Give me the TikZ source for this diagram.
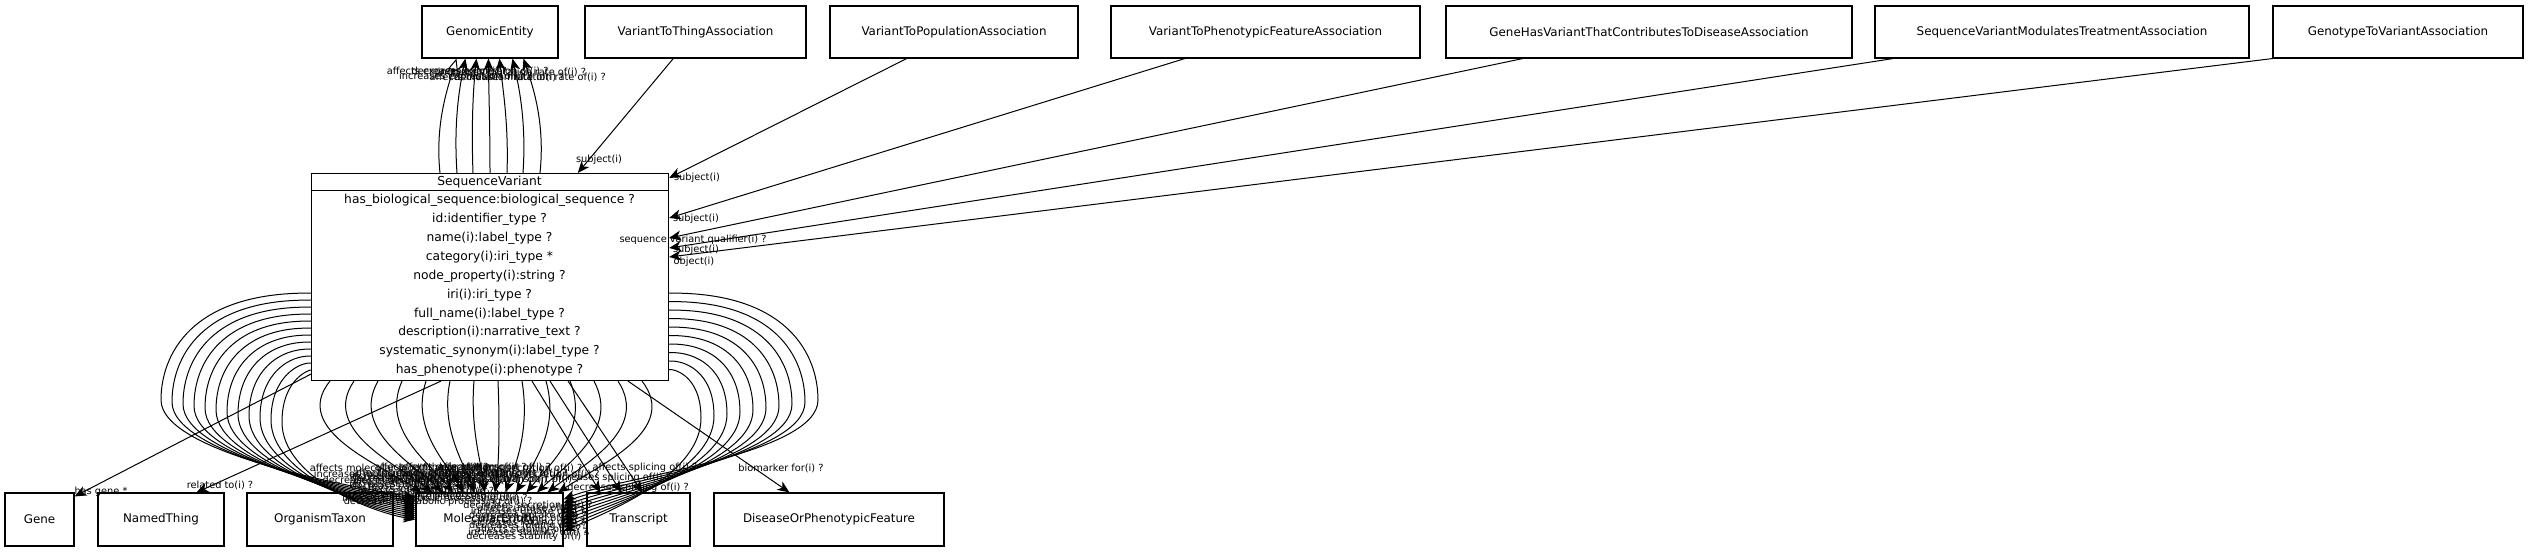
\documentclass[tikz,border=0pt]{standalone}
\usepackage{fontspec}
\setmainfont{DejaVu Sans}
\usetikzlibrary{arrows.meta,calc}
\begin{document}
\begin{tikzpicture}[x=1pt,y=-1pt,
  box/.style={draw, line width=1.1pt, inner sep=0pt, minimum height=52pt, font=\fontsize{11.9}{13}\selectfont},
  bbox/.style={box, minimum height=53pt},
  rec/.style={font=\fontsize{12.3}{13}\selectfont, inner sep=0pt},
  lbl/.style={font=\fontsize{9.8}{10}\selectfont, inner sep=0pt},
  arr/.style={-{Stealth[length=12pt,width=10pt,inset=3.5pt]}, line width=1pt},
  isa/.style={-{Triangle[open,length=12pt,width=10pt]}, line width=1pt}]
\useasboundingbox (0,0) rectangle (2528,553);
% top row
\node[box, minimum width=136pt] (ge)  at (490,32)    {GenomicEntity};
\node[box, minimum width=221pt] (v2t) at (695.5,32)  {VariantToThingAssociation};
\node[box, minimum width=248pt] (v2p) at (954,32)    {VariantToPopulationAssociation};
\node[box, minimum width=309pt] (v2f) at (1265.5,32) {VariantToPhenotypicFeatureAssociation};
\node[box, minimum width=406pt] (ghv) at (1649,32)   {GeneHasVariantThatContributesToDiseaseAssociation};
\node[box, minimum width=374pt] (svm) at (2062,32)   {SequenceVariantModulatesTreatmentAssociation};
\node[box, minimum width=250pt] (g2v) at (2398,32)   {GenotypeToVariantAssociation};
% bottom row
\node[bbox, minimum width=69pt]  (gene) at (39.5,519.5)  {Gene};
\node[bbox, minimum width=126pt] (nt)   at (161,519.5)   {NamedThing};
\node[bbox, minimum width=146pt] (ot)   at (320,519.5)   {OrganismTaxon};
\node[bbox, minimum width=147pt] (me)   at (489.5,519.5) {MolecularEntity};
\node[bbox, minimum width=103pt] (tr)   at (638.5,519.5) {Transcript};
\node[bbox, minimum width=230pt] (dis)  at (829,519.5)   {DiseaseOrPhenotypicFeature};
% record
\node[draw, line width=1.1pt, minimum width=357pt, minimum height=207pt, inner sep=0pt, anchor=north west] (sv) at (311,173) {};
\node[rec] (svt) at (489.5,182) {SequenceVariant};
\draw[line width=1pt] (sv.west |- 0,191) -- (sv.east |- 0,191);
\foreach \t [count=\i from 0] in {has\_biological\_sequence:biological\_sequence ?,
  id:identifier\_type ?, name(i):label\_type ?, category(i):iri\_type *,
  node\_property(i):string ?, iri(i):iri\_type ?, full\_name(i):label\_type ?,
  description(i):narrative\_text ?, systematic\_synonym(i):label\_type ?,
  has\_phenotype(i):phenotype ?}
  \node[rec] (svr\i) at (489.5,{200.4+18.9*\i}) {\t};
% association edges
\draw[arr] ($(v2t.south west)!0.40!(v2t.south east)$) -- ($(sv.north west)!0.745!(sv.north east)$);
\node[lbl] at (599,160) {subject(i)};
\draw[arr] ($(v2p.south west)!0.31!(v2p.south east)$) -- ($(sv.north east)+(0,5)$);
\node[lbl] at (697,178) {subject(i)};
\draw[arr] ($(v2f.south west)!0.24!(v2f.south east)$) -- ($(sv.north east)+(0,45)$);
\node[lbl] at (696,219) {subject(i)};
\draw[arr] ($(ghv.south west)!0.19!(ghv.south east)$) -- ($(sv.north east)+(0,65)$);
\node[lbl] at (693,240) {sequence variant qualifier(i) ?};
\draw[arr] ($(svm.south west)!0.05!(svm.south east)$) -- ($(sv.north east)+(0,75)$);
\node[lbl] at (696,250) {subject(i)};
\draw[arr] (g2v.south west) -- ($(sv.north east)+(0,84)$);
\node[lbl] at (694,262) {object(i)};
% edges to GenomicEntity
\draw[isa] ($(sv.north west)+(129,0)$) .. controls (435,125) and (447,90) .. ($(ge.south west)+(35,0)$);
\foreach \s/\e/\lx/\ly/\t in {146/44/447/72/affects expression of(i) ?,
  162/55/466/77/increases expression of(i) ?, 179/67/480/72/decreases expression of(i) ?,
  196/78/497/77/affects mutation rate of(i) ?, 212/91/512/72/increases mutation rate of(i) ?,
  229/102/530/77/decreases mutation rate of(i) ?}{
  \pgfmathsetmacro\sx{311+\s}
  \pgfmathsetmacro\ex{422+\e}
  \draw[arr] ($(sv.north west)+(\s,0)$) .. controls ({\sx+(\sx-490)*0.1},125) and ({\ex+(\ex-490)*0.3},90) .. ($(ge.south west)+(\e,0)$);
  \node[lbl] at (\lx,\ly) {\t};
}
% straight edges below
\draw[arr] ($(sv.south west)+(0,-7)$) -- ($(gene.north east)+(0,4)$);
\node[lbl] at (101,492) {has gene *};
\draw[arr] ($(sv.south west)+(130,0)$) -- ($(nt.north west)+(99,0)$);
\node[lbl] at (220,485) {related to(i) ?};
\draw[arr] ($(sv.south west)+(221,0)$) -- ($(tr.north west)+(14,0)$);
\draw[arr] ($(sv.south west)+(239,0)$) -- ($(tr.north west)+(35,0)$);
\draw[arr] ($(sv.south west)+(257,0)$) -- ($(tr.north west)+(56,0)$);
\node[lbl] at (645,468) {affects splicing of(i) ?};
\node[lbl] at (612,478) {increases splicing of(i) ?};
\node[lbl] at (628,488) {decreases splicing of(i) ?};
\draw[arr] ($(sv.south west)+(317,0)$) -- ($(dis.north west)+(76,0)$);
\node[lbl] at (781,468) {biomarker for(i) ?};
% fan to MolecularEntity
\foreach \p [count=\i from 0] in {activity,abundance,localization,metabolic processing,molecular modification,synthesis,degradation,transport,secretion,uptake,folding,stability}{
 \foreach \q [count=\j from 0] in {affects,increases,decreases}{
  \pgfmathtruncatemacro\n{\i*3+\j}
  \ifnum\n<12
    \pgfmathsetmacro\ys{292+7*\n}
    \pgfmathsetmacro\xl{161+11*\n}
    \pgfmathsetmacro\ym{400+2*\n}
    \pgfmathsetmacro\ye{498+2*\n}
    \draw[arr] ($(sv.south west)+(0,\ys-380)$) .. controls (\xl+30,\ys) and (\xl,\ym-45) .. (\xl,\ym) .. controls (\xl,\ym+55) and (370,\ye-8) .. ($(me.north west)+(0,\ye-493)$);
    \node[lbl] at (405+3*\n,474+2.5*\n) {\q\ \p\ of(i) ?};
  \else\ifnum\n<26
    \pgfmathtruncatemacro\k{\n-12}
    \pgfmathsetmacro\xs{330+24*\k}
    \pgfmathsetmacro\xe{422+10.5*\k}
    \pgfmathsetmacro\cx{\xs+(\xs-490)*0.25}
    \pgfmathsetmacro\cxe{\xe+(\xe-490)*0.6}
    \pgfmathtruncatemacro\md{mod(\k,3)}
    \draw[arr] ($(sv.south west)+(\xs-311,0)$) .. controls (\cx,430) and (\cxe,465) .. ($(me.north west)+(\xe-416,0)$);
    \node[lbl] at (\xe-22,468+6*\md) {\q\ \p\ of(i) ?};
  \else
    \pgfmathtruncatemacro\k{\n-26}
    \pgfmathsetmacro\ys{292+8.5*\k}
    \pgfmathsetmacro\xr{818-13*\k}
    \pgfmathsetmacro\ym{400+2*\k}
    \pgfmathsetmacro\ye{500+3.5*\k}
    \draw[arr] ($(sv.south east)+(0,\ys-380)$) .. controls (\xr-30,\ys) and (\xr,\ym-45) .. (\xr,\ym) .. controls (\xr,\ym+55) and (615,\ye-22) .. ($(me.north east)+(0,\ye-493)$);
    \node[lbl] at (528,505+3.5*\k) {\q\ \p\ of(i) ?};
  \fi\fi
 }
}
\end{tikzpicture}
\end{document}
